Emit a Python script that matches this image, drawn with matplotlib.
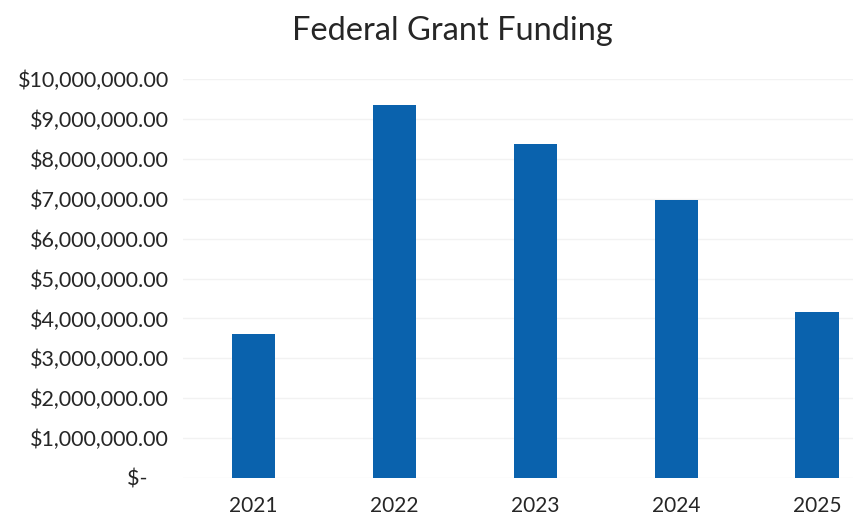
import matplotlib.pyplot as plt
from matplotlib.ticker import FuncFormatter, MultipleLocator

years = ['2021', '2022', '2023', '2024', '2025']
funding = [3600000, 9350000, 8380000, 6960000, 4150000]

plt.rcParams['font.family'] = ['Lato', 'DejaVu Sans']

def money(v, pos):
    if v == 0:
        return '$-    '
    return '${:,.2f}'.format(v)

fig = plt.figure(figsize=(8.54, 5.19), dpi=100)
ax = fig.add_axes([183 / 854, 41 / 519, 1 - 183 / 854, 399 / 519])
ax.bar(range(len(years)), funding, width=0.31, color='#0a62ad', zorder=3)
ax.set_xticks(range(len(years)))
ax.set_xticklabels(years)
ax.set_xlim(-0.5, 4.26)
ax.set_ylim(0, 10000000)
ax.yaxis.set_major_locator(MultipleLocator(1000000))
ax.yaxis.set_major_formatter(FuncFormatter(money))
ax.grid(axis='y', color='#f2f2f2', linewidth=1, zorder=0)
for s in ax.spines.values():
    s.set_visible(False)
ax.tick_params(length=0, labelsize=15, colors='#262626')
ax.tick_params(axis='y', pad=10, labelsize=15.5)
ax.tick_params(axis='x', pad=13)
fig.text(0.53, 0.94, 'Federal Grant Funding', ha='center', va='center', fontsize=23.5, color='#262626')
fig.savefig('out.png', dpi=100)
